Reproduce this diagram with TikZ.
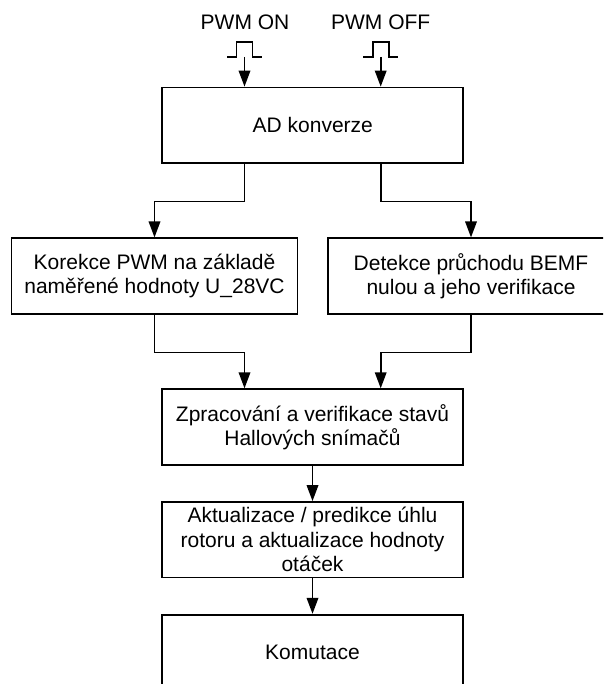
\documentclass[tikz,border=0pt]{standalone}
\usepackage{fontspec}
\setmainfont{Liberation Sans}
\usetikzlibrary{arrows.meta}
\begin{document}
\begin{tikzpicture}[x=1pt,y=-1pt,
  every node/.style={font=\fontsize{21}{24.5}\selectfont},
  blok/.style={draw, line width=1.8pt, minimum height=75.5pt, inner sep=0pt, align=center},
  wide/.style={blok, minimum width=301pt},
  side/.style={blok, minimum width=286pt},
  arr/.style={line width=1.8pt, -{Triangle[length=16pt,width=11.5pt]}},
  pulse/.style={line width=1.6pt}]
\useasboundingbox (0,0) rectangle (603,684);
\clip (0,0) rectangle (603,684);

% input pulses
\coordinate (pon) at (244.5,56.8);
\coordinate (poff) at (380.7,56.8);
\node[anchor=base] (lon) at (245,29.3) {PWM ON};
\node[anchor=base] (loff) at (380.7,29.3) {PWM OFF};
\draw[pulse] (pon) ++(-17.5,0) -- ++(9.5,0) -- ++(0,-14.5) -- ++(16,0) -- ++(0,14.5) -- ++(9.5,0);
\draw[pulse] (poff) ++(-17.5,0) -- ++(9.5,0) -- ++(0,-14.5) -- ++(16,0) -- ++(0,14.5) -- ++(9.5,0);

% blocks
\node[wide] (ad) at (312.8,125.3) {AD konverze};
\node[side] (kor) at (154.5,276.1) {Korekce PWM na základě\\naměřené hodnoty U\_28VC};
\node[side] (det) at (471,276.1) {Detekce průchodu BEMF\\nulou a jeho verifikace};
\node[wide] (zpr) at (312.5,427) {Zpracování a verifikace stavů\\Hallových snímačů};
\node[wide] (akt) at (312.5,539.8) {Aktualizace / predikce úhlu\\rotoru a aktualizace hodnoty\\otáček};
\node[wide] (kom) at (312.5,652.5) {Komutace};

% connections
\draw[arr] (pon) -- (ad.north -| pon);
\draw[arr] (poff) -- (ad.north -| poff);
\draw[arr] (ad.south -| pon) -- ++(0,37.5) -| (kor.north);
\draw[arr] (ad.south -| poff) -- ++(0,37.5) -| (det.north);
\draw[arr] (kor.south) -- ++(0,37.7) -| (zpr.north -| pon);
\draw[arr] (det.south) -- ++(0,37.7) -| (zpr.north -| poff);
\draw[arr] (zpr.south) -- (akt.north);
\draw[arr] (akt.south) -- (kom.north);
\end{tikzpicture}
\end{document}
